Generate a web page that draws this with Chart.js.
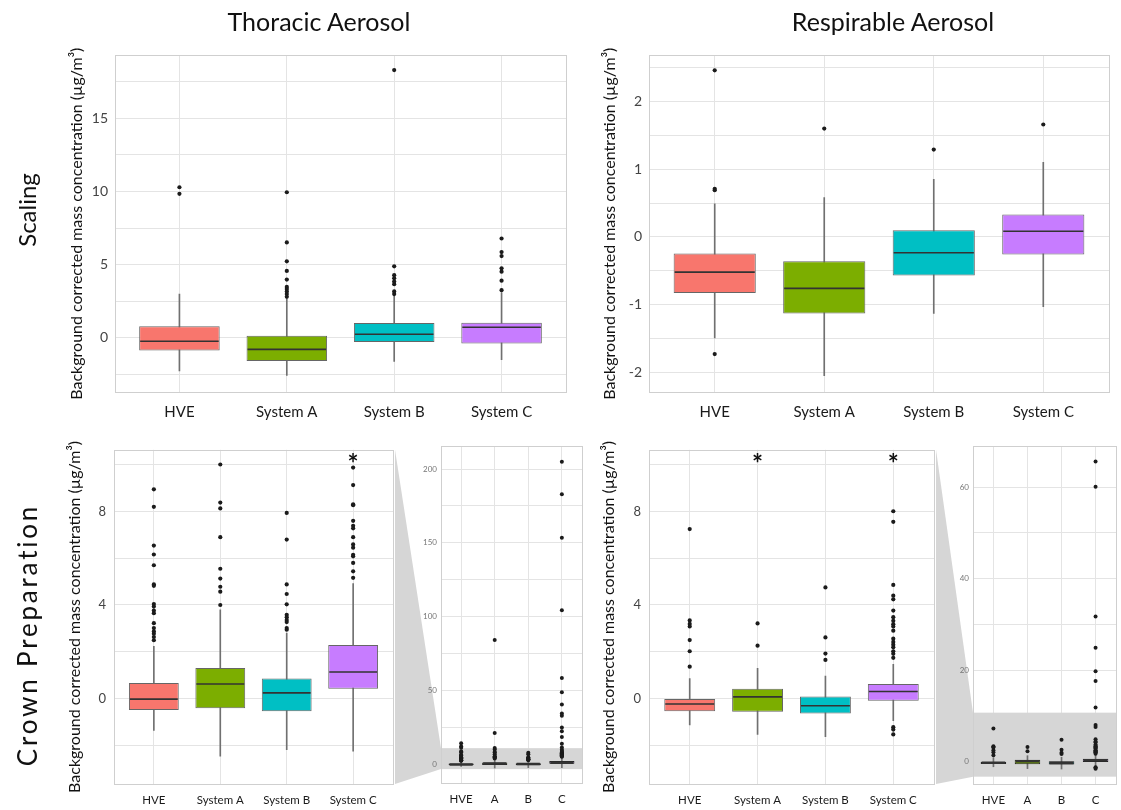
<!DOCTYPE html>
<html><head><meta charset="utf-8">
<script src="https://cdn.jsdelivr.net/npm/chart.js@4"></script>
<style>
body{margin:0;background:#fff;width:1121px;height:810px;position:relative;overflow:hidden;font-family:Lato,"Open Sans",sans-serif;}
canvas{position:absolute;}
.t{position:absolute;color:#111;font-size:25px;white-space:nowrap;transform:translateX(-50%);}
.r{position:absolute;color:#111;font-size:24px;white-space:nowrap;transform:translate(-50%,-50%) rotate(-90deg);}
</style></head><body>
<canvas id="overlay" width="1121" height="810" style="left:0;top:0"></canvas>
<div class="t" style="left:319px;top:6px">Thoracic Aerosol</div>
<div class="t" style="left:893px;top:6px">Respirable Aerosol</div>
<div class="r" style="left:26px;top:210px">Scaling</div>
<div class="r" style="left:27px;top:635px;font-size:26px;letter-spacing:2.8px">Crown Preparation</div>
<canvas id="c1"></canvas><canvas id="c2"></canvas><canvas id="c3"></canvas>
<canvas id="c4"></canvas><canvas id="c5"></canvas><canvas id="c6"></canvas>
<script>
// ---------- categories & tick labels ----------
const categories = ['HVE', 'System A', 'System B', 'System C'];
const insetCategories = ['HVE', 'A', 'B', 'C'];
const boxColors = ['#F8766D', '#7CAE00', '#00BFC4', '#C77CFF'];
const yTitle = 'Background corrected mass concentration (µg/m³)';

const ticksThorScal = [-2.5, 0, 2.5, 5, 7.5, 10, 12.5, 15, 17.5];
const majorThorScal = [0, 5, 10, 15];
const ticksRespScal = [-2, -1.5, -1, -0.5, 0, 0.5, 1, 1.5, 2, 2.5];
const majorRespScal = [-2, -1, 0, 1, 2];
const ticksCrown = [-2, 0, 2, 4, 6, 8, 10];
const majorCrown = [0, 4, 8];
const ticksThorInset = [0, 25, 50, 75, 100, 125, 150, 175, 200];
const majorThorInset = [0, 50, 100, 150, 200];
const ticksRespInset = [0, 10, 20, 30, 40, 50, 60];
const majorRespInset = [0, 20, 40, 60];

// ---------- Thoracic, Scaling ----------
const thorScalQ1  = [-0.86, -1.58, -0.29, -0.38];
const thorScalMed = [-0.23, -0.79, 0.25, 0.72];
const thorScalQ3  = [0.79, 0.14, 1.02, 1.04];
const thorScalLo  = [-2.26, -2.56, -1.61, -1.49];
const thorScalHi  = [2.99, 2.72, 2.90, 3.10];
const thorScalOutHVE = [10.29, 9.84];
const thorScalOutA = [9.95, 6.52, 5.23, 4.57, 3.98, 3.48, 3.33, 3.17, 2.99, 2.81];
const thorScalOutB = [18.3, 4.89, 4.28, 4.07, 3.85, 3.67, 3.17, 2.99];
const thorScalOutC = [6.79, 5.86, 5.59, 4.75, 4.52, 3.91, 3.26];

// ---------- Respirable, Scaling ----------
const respScalQ1  = [-0.83, -1.13, -0.57, -0.26];
const respScalMed = [-0.52, -0.76, -0.235, 0.083];
const respScalQ3  = [-0.245, -0.36, 0.10, 0.33];
const respScalLo  = [-1.49, -2.05, -1.13, -1.03];
const respScalHi  = [0.49, 0.58, 0.85, 1.10];
const respScalOutHVE = [2.46, 0.71, 0.69, -1.73];
const respScalOutA = [1.60];
const respScalOutB = [1.29];
const respScalOutC = [1.66];

// ---------- Thoracic, Crown Preparation ----------
const thorCrownQ1  = [-0.49, -0.42, -0.55, 0.42];
const thorCrownMed = [-0.03, 0.62, 0.24, 1.13];
const thorCrownQ3  = [0.66, 1.30, 0.85, 2.29];
const thorCrownLo  = [-1.37, -2.47, -2.19, -2.25];
const thorCrownHi  = [2.23, 3.79, 2.80, 4.92];
const thorCrownOutHVE = [14.4, 12.3, 11.2, 8.95, 8.20, 6.54, 6.16, 5.70, 4.88, 4.82, 4.04, 3.93, 3.76, 3.65, 3.22, 3.01, 2.87, 2.77, 2.63, 2.49];
const thorCrownOutA = [84.3, 21.2, 11.1, 10.01, 8.38, 8.13, 6.90, 5.55, 5.13, 4.78, 4.57, 4.0];
const thorCrownOutB = [7.94, 6.80, 4.88, 4.47, 4.03, 3.58, 3.48, 3.36, 3.27, 3.01, 2.94];
const thorCrownOutC = [205, 183, 153.5, 104.3, 58.5, 48.8, 40.6, 34.5, 32.9, 25.0, 22.5, 18.5, 14.0, 11.5, 9.88, 9.13, 8.31, 8.27, 7.60, 7.39, 7.28, 6.90, 6.59, 6.45, 6.15, 6.08, 5.80, 5.44, 5.16];
const thorCrownStars = [4];
const thorInsetBand = [-3.2, 11.0];

// ---------- Respirable, Crown Preparation ----------
const respCrownQ1  = [-0.55, -0.57, -0.64, -0.10];
const respCrownMed = [-0.24, 0.07, -0.31, 0.30];
const respCrownQ3  = [0.0, 0.42, 0.08, 0.62];
const respCrownLo  = [-1.13, -1.54, -1.63, -0.95];
const respCrownHi  = [0.85, 1.29, 0.96, 1.46];
const respCrownOutHVE = [7.25, 3.34, 3.19, 3.08, 2.50, 2.02, 1.36];
const respCrownOutA = [3.21, 2.26];
const respCrownOutB = [4.75, 2.61, 1.92, 1.65];
const respCrownOutC = [65.6, 60.1, 31.7, 24.9, 19.75, 17.6, 11.8, 8.01, 7.56, 4.86, 4.40, 4.24, 3.76, 3.48, 3.32, 3.18, 3.08, 2.90, 2.56, 2.42, 2.30, 2.19, 2.02, 1.91, 1.74, -1.23, -1.33, -1.54];
const respCrownStars = [2, 4];
const respInsetBand = [-3.3, 10.7];
const starValue = 10.25;

// ---------- plugins ----------
const framePlugin = {
  id: 'frame',
  beforeDatasetsDraw(chart) {
    const a = chart.chartArea, ctx = chart.ctx, o = chart.options.plugins.frame || {};
    ctx.save();
    if (o.band) {
      const y = chart.scales.y;
      const y1 = y.getPixelForValue(o.band[1]), y0 = y.getPixelForValue(o.band[0]);
      ctx.fillStyle = '#d6d6d6';
      ctx.fillRect(a.left, y1, a.right - a.left, y0 - y1);
    }
    ctx.strokeStyle = '#cfcfcf';
    ctx.lineWidth = 1;
    ctx.strokeRect(Math.round(a.left) + 0.5, Math.round(a.top) + 0.5, Math.round(a.right - a.left), Math.round(a.bottom - a.top));
    ctx.restore();
  }
};
const medianPlugin = {
  id: 'medians',
  afterDatasetsDraw(chart) {
    const ctx = chart.ctx, ys = chart.scales.y, a = chart.chartArea;
    chart.data.datasets.forEach((ds, di) => {
      if (!ds.medians) return;
      const meta = chart.getDatasetMeta(di);
      ctx.save();
      ctx.beginPath(); ctx.rect(a.left, a.top, a.right - a.left, a.bottom - a.top); ctx.clip();
      ctx.beginPath();
      meta.data.forEach((el, i) => {
        const p = el.getProps(['x', 'width'], true);
        const py = ys.getPixelForValue(ds.medians[i]);
        ctx.moveTo(p.x - p.width / 2 + 1, py); ctx.lineTo(p.x + p.width / 2 - 1, py);
      });
      ctx.strokeStyle = '#333'; ctx.lineWidth = ds.medianWidth || 1.6; ctx.stroke();
      ctx.restore();
    });
    const st = chart.options.plugins.stars;
    if (st && st.cats) {
      ctx.save();
      ctx.font = 'bold 26px Lato, sans-serif'; ctx.fillStyle = '#111';
      ctx.textAlign = 'center'; ctx.textBaseline = 'middle';
      st.cats.forEach(c => {
        ctx.fillText('*', chart.scales.x.getPixelForValue(c), ys.getPixelForValue(st.value) + 6);
      });
      ctx.restore();
    }
  }
};

function makePanel(p) {
  const cv = document.getElementById(p.id);
  cv.width = p.width; cv.height = p.height;
  cv.style.left = p.left + 'px'; cv.style.top = p.top + 'px';
  const idx = p.q1.map((_, i) => i + 1);
  const outs = [];
  p.out.forEach((arr, i) => arr.forEach(v => outs.push({ x: i + 1, y: v })));
  const chart = new Chart(cv, {
    type: 'bar',
    data: {
      datasets: [
        { type: 'scatter', data: outs, pointRadius: p.pr || 2.1, pointBackgroundColor: '#1b1b1b', pointBorderWidth: 0, order: 1 },
        { type: 'bar', data: idx.map((x, i) => ({ x, y: [p.q1[i], p.q3[i]] })), medians: p.med, medianWidth: p.mw,
          backgroundColor: boxColors, borderColor: p.boxBorder || '#666', borderWidth: 1, borderSkipped: false,
          barPercentage: 0.75, categoryPercentage: 1, grouped: false, order: 2 },
        { type: 'bar', data: idx.map((x, i) => ({ x, y: [p.lo[i], p.hi[i]] })),
          backgroundColor: '#707070', barThickness: 1, grouped: false, order: 3 }
      ]
    },
    options: {
      responsive: false, animation: false, devicePixelRatio: 1,
      layout: { padding: { top: p.padTop, right: p.padRight, left: 0, bottom: 0 } },
      plugins: { legend: { display: false }, tooltip: { enabled: false },
        frame: { band: p.band }, stars: { cats: p.stars, value: starValue } },
      scales: {
        x: {
          type: 'linear', min: 0.4, max: 4.6, offset: false,
          afterBuildTicks: s => { s.ticks = idx.map(v => ({ value: v })); },
          afterFit: s => { s.height = p.xHeight; },
          grid: { color: '#e4e4e4', drawTicks: false, offset: false },
          border: { display: false },
          ticks: { autoSkip: false, maxRotation: 0, padding: p.xPad, color: '#1a1a1a',
            font: { family: 'Lato', size: p.xFont }, callback: v => p.labels[v - 1] }
        },
        y: {
          type: 'linear', min: p.yMin, max: p.yMax,
          afterBuildTicks: s => { s.ticks = p.yTicks.map(v => ({ value: v })); },
          afterFit: s => { s.width = p.yWidth; },
          grid: { color: '#e4e4e4', drawTicks: false },
          border: { display: false },
          ticks: { padding: p.yPad, color: p.yColor, font: { family: 'Lato', size: p.yFont },
            callback: v => (p.yMajor.includes(v) ? String(v) : '') },
          title: { display: !!p.title, text: p.title || '', color: '#111', padding: 0,
            font: { family: 'Lato', size: 16 } }
        }
      }
    },
    plugins: [framePlugin, medianPlugin]
  });
  return chart;
}

const c1 = makePanel({ id: 'c1', left: 67, top: 40, width: 505, height: 387, padTop: 13, padRight: 6,
  yWidth: 48, xHeight: 35, xPad: 11, xFont: 15, yFont: 14, yPad: 7, yColor: '#444', title: yTitle,
  yMin: -3.7, yMax: 19.3, yTicks: ticksThorScal, yMajor: majorThorScal, labels: categories,
  q1: thorScalQ1, med: thorScalMed, q3: thorScalQ3, lo: thorScalLo, hi: thorScalHi,
  out: [thorScalOutHVE, thorScalOutA, thorScalOutB, thorScalOutC] });

const c2 = makePanel({ id: 'c2', left: 600, top: 40, width: 515, height: 387, padTop: 13, padRight: 6,
  yWidth: 49, xHeight: 35, xPad: 11, xFont: 15, yFont: 14, yPad: 7, yColor: '#444', title: yTitle,
  yMin: -2.29, yMax: 2.68, yTicks: ticksRespScal, yMajor: majorRespScal, labels: categories,
  q1: respScalQ1, med: respScalMed, q3: respScalQ3, lo: respScalLo, hi: respScalHi,
  out: [respScalOutHVE, respScalOutA, respScalOutB, respScalOutC] });

const c3 = makePanel({ id: 'c3', left: 65, top: 434, width: 332, height: 376, padTop: 13, padRight: 2,
  yWidth: 49, xHeight: 26, xPad: 9, xFont: 11.5, yFont: 13, yPad: 8, yColor: '#444', title: yTitle,
  yMin: -3.66, yMax: 10.64, yTicks: ticksCrown, yMajor: majorCrown, labels: categories,
  q1: thorCrownQ1, med: thorCrownMed, q3: thorCrownQ3, lo: thorCrownLo, hi: thorCrownHi,
  out: [thorCrownOutHVE, thorCrownOutA, thorCrownOutB, thorCrownOutC], stars: thorCrownStars });

const c4 = makePanel({ id: 'c4', left: 416, top: 433, width: 170, height: 377, padTop: 13, padRight: 3,
  yWidth: 25, xHeight: 27, xPad: 9, xFont: 11.5, yFont: 8, yPad: 4, yColor: '#777',
  yMin: -12.6, yMax: 215.6, yTicks: ticksThorInset, yMajor: majorThorInset, labels: insetCategories,
  q1: thorCrownQ1, med: thorCrownMed, q3: thorCrownQ3, lo: thorCrownLo, hi: thorCrownHi, mw: 2.5,
  boxBorder: '#222', pr: 2,
  out: [thorCrownOutHVE, thorCrownOutA, thorCrownOutB, thorCrownOutC], band: thorInsetBand });

const c5 = makePanel({ id: 'c5', left: 599, top: 434, width: 339, height: 376, padTop: 13, padRight: 2,
  yWidth: 50, xHeight: 26, xPad: 9, xFont: 11.5, yFont: 13, yPad: 8, yColor: '#444', title: yTitle,
  yMin: -3.66, yMax: 10.64, yTicks: ticksCrown, yMajor: majorCrown, labels: categories,
  q1: respCrownQ1, med: respCrownMed, q3: respCrownQ3, lo: respCrownLo, hi: respCrownHi,
  out: [respCrownOutHVE, respCrownOutA, respCrownOutB, respCrownOutC], stars: respCrownStars });

const c6 = makePanel({ id: 'c6', left: 950, top: 433, width: 170, height: 377, padTop: 13, padRight: 3,
  yWidth: 23, xHeight: 26, xPad: 9, xFont: 11.5, yFont: 8, yPad: 4, yColor: '#777',
  yMin: -4.9, yMax: 69, yTicks: ticksRespInset, yMajor: majorRespInset, labels: insetCategories,
  q1: respCrownQ1, med: respCrownMed, q3: respCrownQ3, lo: respCrownLo, hi: respCrownHi, mw: 2.5,
  boxBorder: '#222', pr: 2,
  out: [respCrownOutHVE, respCrownOutA, respCrownOutB, respCrownOutC], band: respInsetBand });

// ---------- zoom connectors (from chart geometry) ----------
function connector(main, mainPos, inset, insetPos, band) {
  const ctx = document.getElementById('overlay').getContext('2d');
  const a = main.chartArea, b = inset.chartArea, ys = inset.scales.y;
  const x0 = mainPos[0] + a.right + 2;
  const x1 = insetPos[0] + b.left;
  ctx.fillStyle = '#d6d6d6';
  ctx.beginPath();
  ctx.moveTo(x0, mainPos[1] + a.top);
  ctx.lineTo(x1, insetPos[1] + ys.getPixelForValue(band[1]));
  ctx.lineTo(x1, insetPos[1] + ys.getPixelForValue(band[0]));
  ctx.lineTo(x0, mainPos[1] + a.bottom);
  ctx.closePath(); ctx.fill();
}
connector(c3, [65, 434], c4, [416, 433], thorInsetBand);
connector(c5, [599, 434], c6, [950, 433], respInsetBand);
</script>
</body></html>
